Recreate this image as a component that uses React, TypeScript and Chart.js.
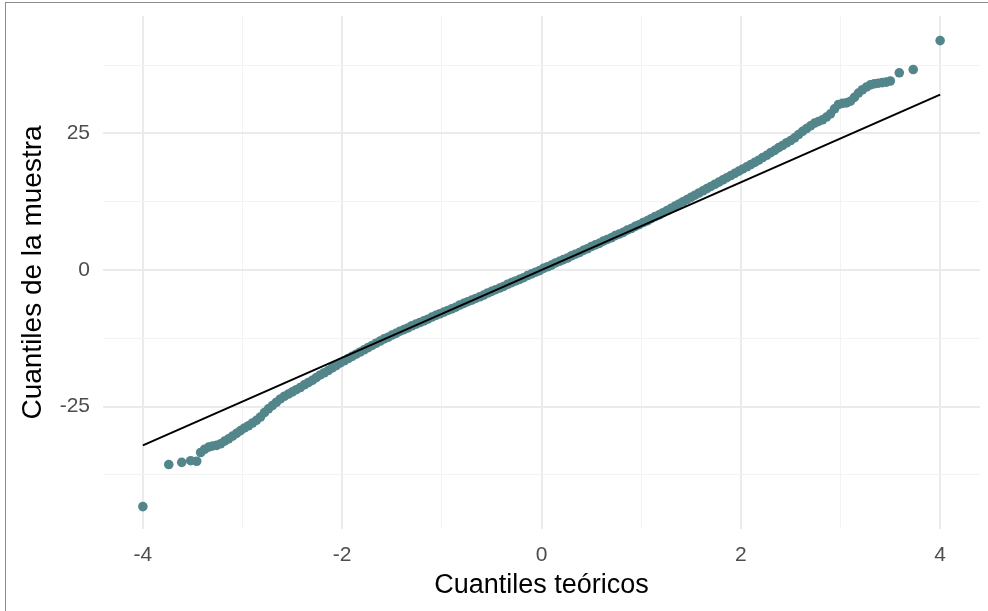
import React, { useEffect, useRef } from "react";
import { Chart, registerables } from "chart.js";

Chart.register(...registerables);

// Theoretical quantiles (x) and sample quantiles (y)
const theoreticalQuantiles = [
  -4.0, -3.74, -3.61, -3.52, -3.46, -3.42, -3.38, -3.34, -3.3, -3.26, -3.22, -3.18, -3.14, -3.1,
  -3.06, -3.02, -2.98, -2.94, -2.9, -2.86, -2.82, -2.78, -2.74, -2.7, -2.66, -2.62, -2.58, -2.54,
  -2.5, -2.46, -2.42, -2.38, -2.34, -2.3, -2.26, -2.22, -2.18, -2.14, -2.1, -2.06, -2.02, -1.98,
  -1.94, -1.9, -1.86, -1.82, -1.78, -1.74, -1.7, -1.66, -1.62, -1.58, -1.54, -1.5, -1.46, -1.42,
  -1.38, -1.34, -1.3, -1.26, -1.22, -1.18, -1.14, -1.1, -1.06, -1.02, -0.98, -0.94, -0.9, -0.86,
  -0.82, -0.78, -0.74, -0.7, -0.66, -0.62, -0.58, -0.54, -0.5, -0.46, -0.42, -0.38, -0.34, -0.3,
  -0.26, -0.22, -0.18, -0.14, -0.1, -0.06, -0.02, 0.02, 0.06, 0.1, 0.14, 0.18, 0.22, 0.26, 0.3,
  0.34, 0.38, 0.42, 0.46, 0.5, 0.54, 0.58, 0.62, 0.66, 0.7, 0.74, 0.78, 0.82, 0.86, 0.9, 0.94,
  0.98, 1.02, 1.06, 1.1, 1.14, 1.18, 1.22, 1.26, 1.3, 1.34, 1.38, 1.42, 1.46, 1.5, 1.54, 1.58,
  1.62, 1.66, 1.7, 1.74, 1.78, 1.82, 1.86, 1.9, 1.94, 1.98, 2.02, 2.06, 2.1, 2.14, 2.18, 2.22,
  2.26, 2.3, 2.34, 2.38, 2.42, 2.46, 2.5, 2.54, 2.58, 2.62, 2.66, 2.7, 2.74, 2.78, 2.82, 2.86,
  2.9, 2.94, 2.98, 3.02, 3.06, 3.1, 3.14, 3.18, 3.22, 3.26, 3.3, 3.34, 3.38, 3.42, 3.46, 3.5,
  3.59, 3.73, 4.0,
];

const sampleQuantiles = [
  -43.3, -35.6, -35.2, -34.9, -35.0, -33.4, -32.8, -32.4, -32.2, -32.1, -31.8, -31.3, -30.9, -30.4,
  -29.9, -29.4, -28.9, -28.5, -28.0, -27.5, -26.9, -26.1, -25.4, -24.8, -24.2, -23.6, -23.1, -22.7,
  -22.3, -21.9, -21.5, -21.0, -20.6, -20.2, -19.7, -19.2, -18.8, -18.4, -17.9, -17.5, -17.0, -16.6,
  -16.2, -15.8, -15.4, -15.0, -14.6, -14.2, -13.8, -13.4, -13.0, -12.6, -12.3, -11.9, -11.6, -11.2,
  -10.9, -10.6, -10.2, -9.9, -9.6, -9.3, -9.0, -8.6, -8.3, -8.0, -7.7, -7.4, -7.1, -6.8,
  -6.4, -6.1, -5.8, -5.5, -5.2, -4.9, -4.6, -4.2, -3.9, -3.6, -3.3, -3.0, -2.6, -2.3,
  -2.0, -1.7, -1.4, -1.0, -0.7, -0.4, -0.1, 0.3, 0.6, 0.9, 1.3, 1.6, 1.9, 2.2, 2.6,
  2.9, 3.2, 3.6, 3.9, 4.3, 4.6, 4.9, 5.3, 5.6, 5.9, 6.3, 6.6, 6.9, 7.3, 7.6, 8.0,
  8.3, 8.7, 9.0, 9.4, 9.8, 10.1, 10.5, 10.9, 11.3, 11.7, 12.1, 12.5, 12.9, 13.3, 13.7, 14.1,
  14.5, 14.9, 15.3, 15.7, 16.1, 16.5, 16.9, 17.3, 17.7, 18.1, 18.5, 18.9, 19.3, 19.7, 20.1, 20.6,
  21.0, 21.5, 21.9, 22.4, 22.8, 23.3, 23.7, 24.2, 24.8, 25.4, 25.9, 26.4, 26.9, 27.2, 27.5, 28.0,
  28.6, 29.5, 30.3, 30.5, 30.6, 30.9, 31.6, 32.4, 33.0, 33.5, 33.9, 34.1, 34.2, 34.3, 34.4, 34.6,
  36.1, 36.7, 42.0,
];

// Reference line end points
const refLineX = [-4, 4];
const refLineY = [-32.1, 32.1];

// Axis ticks (grid lines) and which of them carry labels
const xTickValues = [-4, -3, -2, -1, 0, 1, 2, 3, 4];
const xTickLabels = [-4, -2, 0, 2, 4];
const yTickValues = [-37.5, -25, -12.5, 0, 12.5, 25, 37.5];
const yTickLabels = [-25, 0, 25];

const FONT = "'Liberation Sans', Arial, Helvetica, sans-serif";

export default function App() {
  const ref = useRef<HTMLCanvasElement | null>(null);

  useEffect(() => {
    document.body.style.margin = "0";
    const canvas = ref.current;
    if (!canvas) return;

    const gridColor = (labels: number[]) => (ctx: any) =>
      labels.includes(ctx.tick?.value) ? "#ebebeb" : "#f3f3f3";
    const gridWidth = (labels: number[]) => (ctx: any) =>
      labels.includes(ctx.tick?.value) ? 2 : 1;

    const chart = new Chart(canvas, {
      type: "scatter",
      data: {
        datasets: [
          {
            type: "line",
            data: refLineX.map((x, i) => ({ x, y: refLineY[i] })),
            borderColor: "#000000",
            borderWidth: 2,
            pointRadius: 0,
            fill: false,
            order: 0,
          } as any,
          {
            type: "scatter",
            data: theoreticalQuantiles.map((x, i) => ({ x, y: sampleQuantiles[i] })),
            backgroundColor: "#53868a",
            borderWidth: 0,
            pointRadius: 4.8,
            pointHoverRadius: 4.8,
            order: 1,
          } as any,
        ],
      },
      options: {
        animation: false,
        responsive: false,
        events: [],
        layout: { padding: { top: 16, right: 8, left: 0, bottom: 0 } },
        plugins: { legend: { display: false }, tooltip: { enabled: false } },
        scales: {
          x: {
            type: "linear",
            min: -4.4,
            max: 4.4,
            afterBuildTicks: (s: any) => {
              s.ticks = xTickValues.map((v) => ({ value: v }));
            },
            afterFit: (s: any) => {
              s.height = 82;
              s.paddingLeft = 0;
              s.paddingRight = 0;
            },
            border: { display: false },
            grid: {
              drawTicks: false,
              color: gridColor(xTickLabels),
              lineWidth: gridWidth(xTickLabels),
            },
            ticks: {
              autoSkip: false,
              maxRotation: 0,
              padding: 14,
              color: "#4d4d4d",
              font: { family: FONT, size: 21 },
              callback: (v: any) => (xTickLabels.includes(Number(v)) ? String(v) : ""),
            },
            title: {
              display: true,
              text: "Cuantiles teóricos",
              color: "#000000",
              font: { family: FONT, size: 27 },
              padding: { top: 0, bottom: 9 },
            },
          },
          y: {
            type: "linear",
            min: -47.4,
            max: 46.5,
            afterBuildTicks: (s: any) => {
              s.ticks = yTickValues.map((v) => ({ value: v }));
            },
            afterFit: (s: any) => {
              s.width = 103;
              s.paddingTop = 0;
              s.paddingBottom = 0;
            },
            border: { display: false },
            grid: {
              drawTicks: false,
              color: gridColor(yTickLabels),
              lineWidth: gridWidth(yTickLabels),
            },
            ticks: {
              autoSkip: false,
              padding: 13,
              color: "#4d4d4d",
              font: { family: FONT, size: 21 },
              callback: (v: any) => (yTickLabels.includes(Number(v)) ? String(v) : ""),
            },
            title: {
              display: true,
              text: "Cuantiles de la muestra",
              color: "#000000",
              font: { family: FONT, size: 28 },
              padding: { top: 16, bottom: 0 },
            },
          },
        },
      },
    } as any);

    return () => chart.destroy();
  }, []);

  return (
    <div style={{ position: "relative", width: 988, height: 611, overflow: "hidden", background: "#ffffff" }}>
      <canvas ref={ref} width={988} height={611} style={{ display: "block" }} />
      <div
        style={{
          position: "absolute",
          left: 5,
          top: 2,
          width: 2000,
          height: 2000,
          borderTop: "1px solid #8c8c8c",
          borderLeft: "1px solid #8c8c8c",
          pointerEvents: "none",
        }}
      />
    </div>
  );
}
